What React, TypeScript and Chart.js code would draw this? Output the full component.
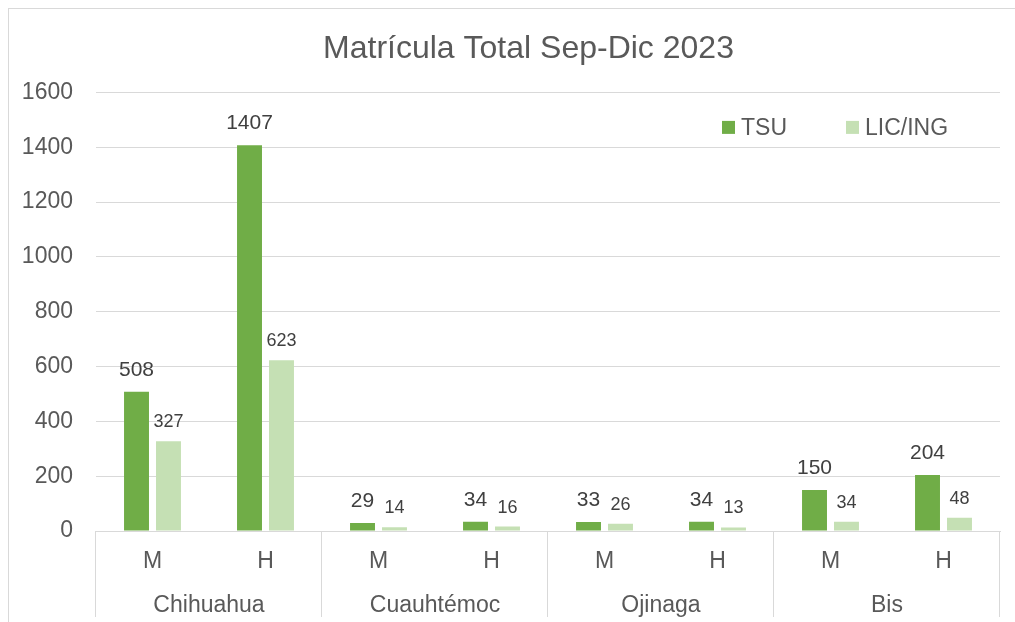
import React, { useEffect, useRef } from "react";
import { Chart, registerables } from "chart.js";

Chart.register(...registerables);

const chartTitle = "Matrícula Total Sep-Dic 2023";
const groups = ["Chihuahua", "Cuauhtémoc", "Ojinaga", "Bis"];
const subCategories = ["M", "H"];
const tsuValues = [508, 1407, 29, 34, 33, 34, 150, 204];
const licValues = [327, 623, 14, 16, 26, 13, 34, 48];
const seriesNames = ["TSU", "LIC/ING"];
const seriesColors = ["#70AD47", "#C5E0B4"];
const yMin = 0;
const yMax = 1600;
const yStep = 200;

const FONT = "'Liberation Sans', Arial, sans-serif";
const TEXT = "#595959";
const GRID = "#D9D9D9";

const labels = groups.flatMap(() => subCategories);

const valueLabelPlugin = {
  id: "valueLabels",
  afterDatasetsDraw(chart: any) {
    const ctx = chart.ctx;
    ctx.save();
    ctx.textAlign = "center";
    ctx.textBaseline = "alphabetic";
    chart.data.datasets.forEach((ds: any, di: number) => {
      const meta = chart.getDatasetMeta(di);
      ctx.font = (di === 0 ? "21px " : "18px ") + FONT;
      ctx.fillStyle = "#404040";
      meta.data.forEach((bar: any, i: number) => {
        ctx.fillText(String(ds.data[i]), bar.x, bar.y - (di === 0 ? 16 : 14));
      });
    });
    ctx.restore();
  },
};

const multiLevelAxisPlugin = {
  id: "multiLevelAxis",
  afterDraw(chart: any) {
    const ctx = chart.ctx;
    const xs = chart.scales.x;
    const top = chart.chartArea.bottom;
    const bottom = chart.height;
    const bounds: number[] = [xs.left];
    for (let k = 1; k < groups.length; k++) {
      const a = xs.getPixelForValue(k * subCategories.length - 1);
      const b = xs.getPixelForValue(k * subCategories.length);
      bounds.push((a + b) / 2);
    }
    bounds.push(xs.right);
    ctx.save();
    ctx.strokeStyle = GRID;
    ctx.lineWidth = 1;
    bounds.forEach((x) => {
      const px = Math.round(x) - 0.5;
      ctx.beginPath();
      ctx.moveTo(px, top);
      ctx.lineTo(px, bottom - 5);
      ctx.stroke();
    });
    ctx.fillStyle = TEXT;
    ctx.font = "23px " + FONT;
    ctx.textAlign = "center";
    ctx.textBaseline = "middle";
    groups.forEach((g, k) => {
      const cx = (bounds[k] + bounds[k + 1]) / 2;
      ctx.fillText(g, cx, top + 75);
    });
    ctx.restore();
  },
};

const legendPlugin = {
  id: "customLegend",
  afterDraw(chart: any) {
    const ctx = chart.ctx;
    const right = chart.chartArea.right;
    const cy = chart.chartArea.top + 35;
    const offsets = [right - 278, right - 154];
    ctx.save();
    ctx.font = "23px " + FONT;
    ctx.textBaseline = "middle";
    ctx.textAlign = "left";
    chart.data.datasets.forEach((ds: any, i: number) => {
      const x = offsets[i];
      ctx.fillStyle = ds.backgroundColor;
      ctx.fillRect(x, cy - 6.5, 13, 13);
      ctx.fillStyle = TEXT;
      ctx.fillText(ds.label, x + 19, cy + 1);
    });
    ctx.restore();
  },
};

export default function App() {
  const ref = useRef<HTMLCanvasElement | null>(null);

  useEffect(() => {
    if (!ref.current) return;
    const chart = new Chart(ref.current, {
      type: "bar",
      data: {
        labels,
        datasets: [
          {
            label: seriesNames[0],
            data: tsuValues,
            backgroundColor: seriesColors[0],
            categoryPercentage: 0.566,
            barPercentage: 0.78,
          },
          {
            label: seriesNames[1],
            data: licValues,
            backgroundColor: seriesColors[1],
            categoryPercentage: 0.566,
            barPercentage: 0.78,
          },
        ],
      },
      options: {
        responsive: false,
        animation: false,
        devicePixelRatio: 1,
        layout: { padding: 0 },
        plugins: {
          legend: { display: false },
          tooltip: { enabled: false },
          title: {
            display: true,
            text: chartTitle,
            color: TEXT,
            font: { family: FONT, size: 32, weight: "normal" },
            padding: { top: 21, bottom: 24 },
          },
        },
        scales: {
          x: {
            grid: { display: false, drawTicks: false },
            border: { display: true, color: GRID },
            ticks: {
              color: TEXT,
              font: { family: FONT, size: 23 },
              padding: 17,
              maxRotation: 0,
            },
            afterFit(scale: any) {
              scale.height = 91;
            },
          },
          y: {
            min: yMin,
            max: yMax,
            grid: { color: GRID, drawTicks: false },
            border: { display: false },
            ticks: {
              stepSize: yStep,
              color: TEXT,
              font: { family: FONT, size: 23 },
              padding: 23,
              callback: (v: any) => String(v),
            },
            afterFit(scale: any) {
              scale.width = 87;
            },
          },
          spacer: {
            position: "right",
            display: true,
            grid: { display: false, drawTicks: false },
            border: { display: false },
            ticks: { display: false },
            afterFit(scale: any) {
              scale.width = 48;
            },
          },
        },
      },
      plugins: [valueLabelPlugin, multiLevelAxisPlugin, legendPlugin],
    });
    return () => chart.destroy();
  }, []);

  return (
    <div
      style={{
        position: "fixed",
        left: 8,
        top: 8,
        width: 1007,
        height: 614,
        overflow: "hidden",
        borderLeft: "1px solid #D9D9D9",
        borderTop: "1px solid #D9D9D9",
        background: "#fff",
      }}
    >
      <canvas ref={ref} width={1039} height={613} style={{ display: "block", width: 1039, height: 613 }} />
    </div>
  );
}
